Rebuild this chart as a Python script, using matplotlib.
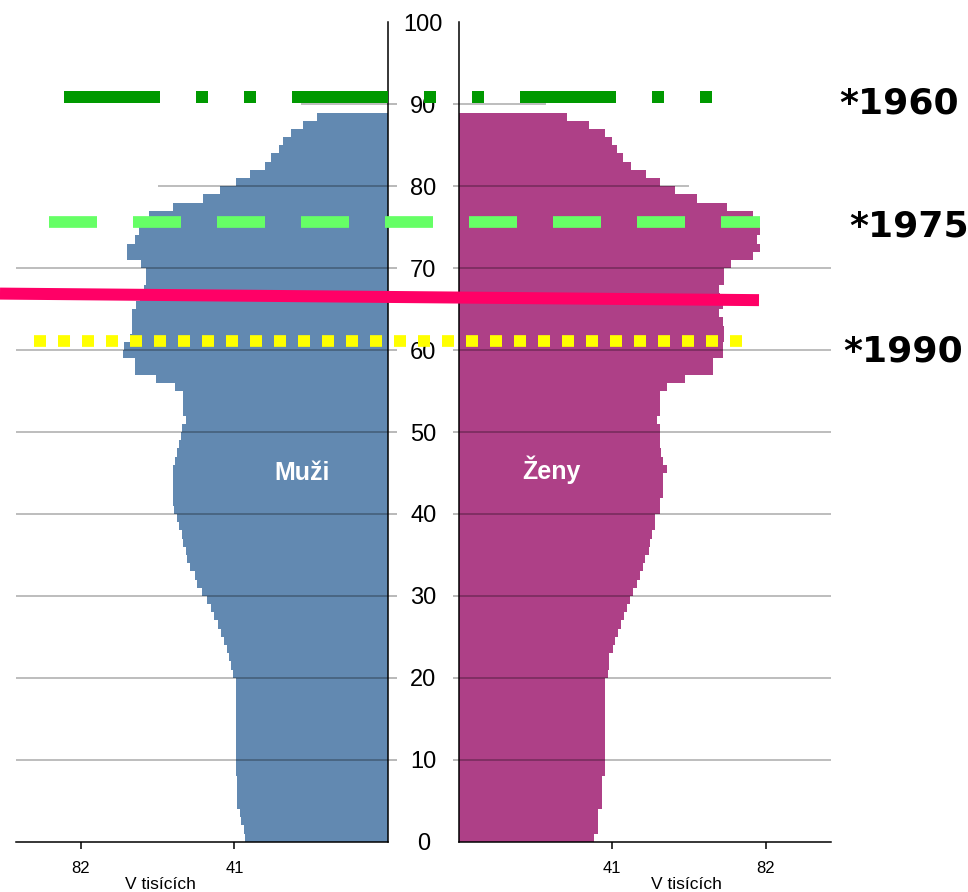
import matplotlib.pyplot as plt
import numpy as np

plt.rcParams['font.family'] = ['Liberation Sans', 'DejaVu Sans']
plt.rcParams['lines.scale_dashes'] = False

# population by single year of age (thousands), ages 0..88
ages = np.arange(0, 89)
muzi = [38.3, 38.5, 39.3, 39.5, 40.2, 40.2, 40.2, 40.2, 40.6, 40.6,
        40.6, 40.6, 40.6, 40.6, 40.6, 40.6, 40.6, 40.6, 40.6, 40.6,
        41.3, 41.8, 42.5, 43.1, 43.8, 44.7, 45.3, 46.4, 47.3, 48.2,
        49.7, 51.0, 51.5, 52.9, 53.6, 54.0, 54.8, 55.1, 55.8, 56.2,
        57.0, 57.5, 57.5, 57.5, 57.5, 57.3, 56.9, 56.2, 55.8, 55.3,
        55.0, 53.8, 54.8, 54.8, 54.8, 56.9, 61.8, 67.6, 67.6, 70.7,
        70.6, 69.0, 68.4, 68.4, 68.4, 67.3, 66.2, 65.0, 64.6, 64.6,
        65.8, 69.6, 69.6, 67.6, 66.4, 65.5, 63.7, 57.5, 49.5, 44.9,
        40.6, 36.8, 32.8, 31.2, 29.0, 28.0, 26.0, 22.8, 19.0]
zeny = [36.1, 37.3, 37.3, 37.3, 38.2, 38.2, 38.2, 38.2, 39.1, 39.1,
        39.1, 39.1, 39.1, 39.1, 39.1, 39.1, 39.1, 39.1, 39.1, 39.1,
        39.9, 40.2, 40.2, 41.3, 41.7, 42.4, 43.2, 44.0, 44.9, 45.7,
        46.6, 47.5, 48.4, 49.3, 49.7, 50.9, 51.0, 51.5, 52.4, 52.4,
        53.8, 53.8, 54.6, 54.6, 54.6, 55.7, 54.6, 54.0, 53.8, 53.8,
        53.8, 52.9, 53.8, 53.8, 53.8, 55.5, 60.4, 68.0, 68.0, 70.6,
        70.6, 70.7, 70.7, 70.5, 69.6, 70.5, 69.8, 69.6, 70.7, 70.7,
        72.6, 78.5, 80.4, 79.6, 80.4, 80.4, 78.5, 71.6, 63.6, 57.8,
        53.8, 50.0, 45.9, 43.8, 42.2, 40.8, 39.1, 34.9, 29.0]

y_ticks = list(range(0, 101, 10))
x_ticks = [41, 82]
grid_y = list(range(10, 100, 10))
grid_len = [100, 100, 100, 100, 100, 100, 100, 61.5, 23.3]

cohort_labels = ['*1960', '*1975', '*1990']
cohort_ages = [90.9, 75.6, 61.1]
pink_ages = [66.9, 66.1]

W, H = 968, 892
fig = plt.figure(figsize=(W / 100, H / 100), dpi=100)


def box(x0, y0, x1, y1):
    # pixel box -> figure fraction
    return [x0 / W, 1 - y1 / H, (x1 - x0) / W, (y1 - y0) / H]


axL = fig.add_axes(box(16, 22.4, 388, 841.7))
axR = fig.add_axes(box(458.7, 22.4, 831, 841.7))

axL.barh(ages, muzi, height=1, align='edge', color='#6289b1', lw=0, zorder=1)
axR.barh(ages, zeny, height=1, align='edge', color='#ae4087', lw=0, zorder=1)

for ax in (axL, axR):
    ax.hlines(grid_y, 0, grid_len, color='k', alpha=0.33, lw=1.1, zorder=2)
    ax.set_ylim(0, 100)
    ax.set_yticks(y_ticks)
    ax.set_xticks(x_ticks)
    ax.set_xticklabels([str(v) for v in x_ticks])
    ax.tick_params(axis='x', direction='out', length=5, width=1.1,
                   color='k', labelsize=12, pad=9)
    ax.spines['top'].set_visible(False)
    ax.set_xlabel('V tisících', fontsize=12.5)
    ax.xaxis.label.set_va('center')

axL.set_xlim(99.3, 0)
axR.set_xlim(0, 99.4)

# left panel: spine on the right, centre age labels
axL.spines['left'].set_visible(False)
axL.yaxis.tick_right()
axL.tick_params(axis='y', direction='out', length=6.5, width=1.1,
                color='#a6a6a6', labelsize=17, pad=19)
axL.set_yticklabels([str(v) for v in y_ticks])
plt.setp(axL.get_yticklabels(), ha='center')

axR.spines['right'].set_visible(False)
axR.tick_params(axis='y', direction='out', length=4.6, width=1.1,
                color='#a6a6a6', labelleft=False)

for ax in (axL, axR):
    ticks = ax.yaxis.get_major_ticks()
    for t in (ticks[0], ticks[-1]):
        t.tick1line.set_visible(False)
        t.tick2line.set_visible(False)
    for s in ('bottom', 'left', 'right'):
        ax.spines[s].set_linewidth(1.1)

axL.xaxis.set_label_coords(0.387, -0.052)
axR.xaxis.set_label_coords(0.612, -0.052)

axL.text(23.0, 44.2, 'Muži', color='white', fontsize=18, fontweight='bold',
         ha='center', va='baseline')
axR.text(24.8, 44.3, 'Ženy', color='white', fontsize=18, fontweight='bold',
         ha='center', va='baseline')

# overlay for the cohort lines, spanning the whole width
ov = fig.add_axes(box(0, 22.4, W, 841.7))
ov.set_xlim(0, 1)
ov.set_ylim(0, 100)
ov.axis('off')
ov.set_zorder(5)

k = 0.72  # px -> pt
ov.plot([64 / W, 712 / W], [cohort_ages[0]] * 2, color='#009900', lw=12 * k,
        linestyle=(0, (96 * k, 36 * k, 12 * k, 36 * k, 12 * k, 36 * k)),
        dash_capstyle='butt')
ov.plot([49 / W, 760 / W], [cohort_ages[1]] * 2, color='#66ff66', lw=11.7 * k,
        linestyle=(0, (48 * k, 36 * k)), dash_capstyle='butt')
ov.plot([0, 759 / W], pink_ages, color='#ff0066', lw=12 * k,
        solid_capstyle='butt')
ov.plot([34 / W, 742 / W], [cohort_ages[2]] * 2, color='#ffff00', lw=11.7 * k,
        linestyle=(0, (12 * k, 12 * k)), dash_capstyle='butt')

label_x = [899, 908.7, 903.3]
label_drop = [2.0, 1.75, 2.5]
for lab, a, lx, d in zip(cohort_labels, cohort_ages, label_x, label_drop):
    ov.text(lx / W, a - d, lab, fontsize=26, fontweight='bold',
            family='DejaVu Sans', ha='center', va='baseline')

fig.savefig('out.png', dpi=100)
